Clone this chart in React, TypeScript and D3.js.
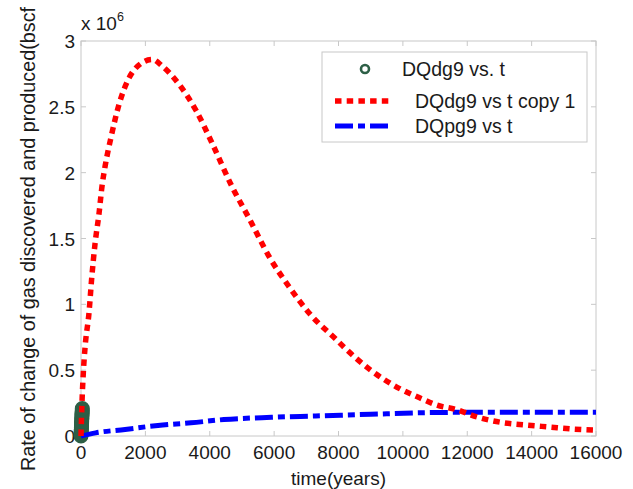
import React from "react";
import * as d3 from "d3";

// time (years) and rates, in units of 1e6
const redT = [0, 30, 72, 125, 250, 333, 436, 560, 654, 750, 934, 1183, 1494, 1868, 2210, 2520, 3050, 3580, 4080, 4700, 5230, 5850, 6475, 7100, 7940, 8190, 9000, 9900, 10520, 11050, 11670, 12300, 13010, 13850, 14570, 15280, 16000];
const redV = [0, 0.25, 0.48, 0.67, 0.94, 1.2, 1.46, 1.69, 1.9, 2.05, 2.27, 2.52, 2.72, 2.83, 2.86, 2.81, 2.67, 2.47, 2.22, 1.89, 1.65, 1.36, 1.13, 0.93, 0.73, 0.67, 0.5, 0.36, 0.29, 0.235, 0.2, 0.145, 0.105, 0.083, 0.068, 0.053, 0.045];

const blueT = [0, 455, 1370, 2390, 3420, 4440, 5920, 7290, 9000, 10700, 12000, 14000, 16000];
const blueV = [0, 0.024, 0.05, 0.08, 0.1, 0.125, 0.142, 0.152, 0.165, 0.177, 0.18, 0.18, 0.18];

const greenT = [0, 2, 4, 6, 8, 10, 12, 14, 16, 18, 20, 22, 24, 26, 28, 30, 32, 34, 36, 38, 40];
const greenV = [0, 0.01, 0.02, 0.031, 0.041, 0.052, 0.062, 0.073, 0.083, 0.094, 0.104, 0.114, 0.125, 0.135, 0.146, 0.156, 0.167, 0.177, 0.187, 0.198, 0.208];

const xTicks = [0, 2000, 4000, 6000, 8000, 10000, 12000, 14000, 16000];
const yTicks = [0, 0.5, 1, 1.5, 2, 2.5, 3];
const yTickLabels = ["0", "0.5", "1", "1.5", "2", "2.5", "3"];

const legendLabels = ["DQdg9 vs. t", "DQdg9 vs t copy 1", "DQpg9 vs t"];

const W = 633;
const H = 489;
const FONT = "'Liberation Sans', Arial, sans-serif";
const GREEN = "#2d5f46";

export default function App() {
  const left = 81;
  const right = 596;
  const top = 41;
  const bottom = 436;
  const x = d3.scaleLinear().domain([0, 16000]).range([left, right]);
  const y = d3.scaleLinear().domain([0, 3]).range([bottom, top]);

  const redLine = d3
    .line<number>()
    .x((_, i) => x(redT[i]))
    .y((d) => y(d))
    .curve(d3.curveMonotoneX)(redV) as string;
  const blueLine = d3
    .line<number>()
    .x((_, i) => x(blueT[i]))
    .y((d) => y(d))
    .curve(d3.curveMonotoneX)(blueV) as string;

  const redDash = "6.5 5.2";
  const blueDash = "18 5 7 5";
  const tickLen = 5;
  const axisColor = "#c8c8c8";

  return (
    <svg
      width={W}
      height={H}
      style={{ position: "absolute", left: 0, top: 0, background: "#fff" }}
      fontFamily={FONT}
    >
      <rect x={0} y={0} width={W} height={H} fill="#fff" />
      {/* axes box */}
      <rect x={left} y={top} width={right - left} height={bottom - top} fill="#fff" stroke={axisColor} strokeWidth={1} />
      {xTicks.map((t) => (
        <g key={"xt" + t}>
          <line x1={x(t)} x2={x(t)} y1={bottom} y2={bottom - tickLen} stroke={axisColor} />
          <line x1={x(t)} x2={x(t)} y1={top} y2={top + tickLen} stroke={axisColor} />
          <text x={x(t)} y={459} textAnchor="middle" fontSize={19} fill="#1a1a1a">
            {t}
          </text>
        </g>
      ))}
      {yTicks.map((v, i) => (
        <g key={"yt" + v}>
          <line x1={left} x2={left + tickLen} y1={y(v)} y2={y(v)} stroke={axisColor} />
          <line x1={right} x2={right - tickLen} y1={y(v)} y2={y(v)} stroke={axisColor} />
          <text x={75} y={y(v) + 7} textAnchor="end" fontSize={19} fill="#1a1a1a">
            {yTickLabels[i]}
          </text>
        </g>
      ))}
      {/* exponent */}
      <text x={81} y={30} fontSize={19} fill="#1a1a1a">
        x 10
      </text>
      <text x={117} y={21} fontSize={12.5} fill="#1a1a1a">
        6
      </text>
      {/* axis labels */}
      <text x={(left + right) / 2} y={485} textAnchor="middle" fontSize={19} fill="#1a1a1a">
        time(years)
      </text>
      <text transform={`translate(35,471) rotate(-90)`} fontSize={19.8} fill="#1a1a1a">
        Rate of change of gas discovered and produced(bscf
      </text>

      {/* series */}
      {greenT.map((t, i) => (
        <circle key={"g" + i} cx={x(t)} cy={y(greenV[i])} r={5.5} fill="none" stroke={GREEN} strokeWidth={4} />
      ))}
      <path d={blueLine} fill="none" stroke="#0000ff" strokeWidth={5} strokeDasharray={blueDash} />
      <path d={redLine} fill="none" stroke="#ff0000" strokeWidth={5.5} strokeDasharray={redDash} />

      {/* legend */}
      <rect x={322} y={52} width={265} height={90} fill="#fff" stroke={axisColor} />
      <circle cx={365} cy={69} r={4} fill="none" stroke={GREEN} strokeWidth={2.6} />
      <text x={402} y={76} fontSize={19.5} fill="#1a1a1a">
        {legendLabels[0]}
      </text>
      <line x1={335} x2={390} y1={101} y2={101} stroke="#ff0000" strokeWidth={5.5} strokeDasharray={redDash} />
      <text x={415} y={108} fontSize={19.5} fill="#1a1a1a">
        {legendLabels[1]}
      </text>
      <line x1={335} x2={390} y1={126} y2={126} stroke="#0000ff" strokeWidth={5} strokeDasharray={blueDash} />
      <text x={415} y={133} fontSize={19.5} fill="#1a1a1a">
        {legendLabels[2]}
      </text>
    </svg>
  );
}
